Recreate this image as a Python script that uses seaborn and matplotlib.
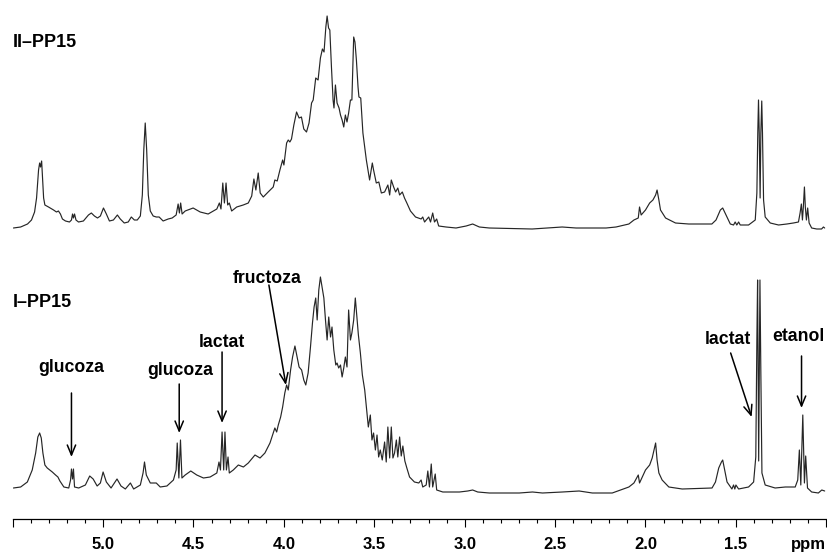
import matplotlib
matplotlib.use("Agg")
import matplotlib.pyplot as plt
import seaborn as sns
import pandas as pd
from matplotlib.ticker import MultipleLocator

# ---------------- data ----------------
# upper spectrum (II-PP15): chemical shift (ppm) and intensity (a.u.)
upper_ppm = [5.496, 5.456, 5.418, 5.396, 5.379, 5.368, 5.357, 5.351, 5.346, 5.340,
             5.335, 5.329, 5.322, 5.302, 5.274, 5.258, 5.247, 5.236, 5.225, 5.208,
             5.186, 5.175, 5.169, 5.164, 5.158, 5.150, 5.136, 5.109, 5.081, 5.065,
             5.048, 5.031, 5.015, 4.998, 4.982, 4.965, 4.943, 4.921, 4.905, 4.883,
             4.861, 4.844, 4.827, 4.811, 4.794, 4.783, 4.775, 4.767, 4.759, 4.750,
             4.739, 4.723, 4.706, 4.690, 4.668, 4.640, 4.618, 4.596, 4.585, 4.578,
             4.571, 4.563, 4.546, 4.502, 4.463, 4.419, 4.371, 4.357, 4.348, 4.338,
             4.329, 4.320, 4.311, 4.302, 4.289, 4.261, 4.225, 4.197, 4.178, 4.166,
             4.155, 4.142, 4.131, 4.114, 4.087, 4.059, 4.050, 4.037, 4.022, 4.007,
             4.000, 3.985, 3.976, 3.967, 3.958, 3.945, 3.930, 3.916, 3.903, 3.890,
             3.875, 3.861, 3.847, 3.838, 3.824, 3.811, 3.798, 3.787, 3.778, 3.768,
             3.761, 3.753, 3.746, 3.737, 3.728, 3.723, 3.715, 3.706, 3.695, 3.687,
             3.678, 3.669, 3.660, 3.651, 3.642, 3.632, 3.624, 3.614, 3.607, 3.599,
             3.590, 3.585, 3.575, 3.563, 3.544, 3.526, 3.511, 3.504, 3.489, 3.475,
             3.461, 3.443, 3.425, 3.415, 3.406, 3.393, 3.382, 3.370, 3.360, 3.345,
             3.333, 3.320, 3.300, 3.272, 3.241, 3.232, 3.222, 3.199, 3.189, 3.177,
             3.167, 3.155, 3.144, 3.103, 3.048, 2.992, 2.956, 2.919, 2.864, 2.627,
             2.461, 2.384, 2.218, 2.163, 2.092, 2.064, 2.040, 2.033, 2.024, 2.000,
             1.977, 1.959, 1.944, 1.936, 1.926, 1.917, 1.889, 1.834, 1.761, 1.633,
             1.610, 1.586, 1.573, 1.549, 1.531, 1.513, 1.504, 1.495, 1.485, 1.476,
             1.430, 1.393, 1.384, 1.379, 1.375, 1.371, 1.366, 1.362, 1.357, 1.353,
             1.347, 1.338, 1.310, 1.264, 1.218, 1.182, 1.154, 1.145, 1.138, 1.132,
             1.127, 1.121, 1.116, 1.110, 1.103, 1.095, 1.081, 1.053, 1.026, 1.016, 1.009]
upper_int = [1, 2, 5, 9, 17, 31, 59, 66, 62, 68,
             52, 31, 24, 22, 19, 17, 18, 15, 10, 8,
             7, 9, 15, 11, 15, 9, 7, 8, 14, 16,
             13, 11, 13, 21, 15, 8, 9, 14, 10, 6,
             7, 12, 9, 9, 13, 34, 79, 106, 79, 34,
             18, 13, 12, 12, 8, 10, 11, 14, 25, 16,
             26, 15, 18, 21, 17, 15, 20, 26, 20, 46,
             26, 46, 24, 26, 18, 22, 24, 26, 33, 50,
             39, 56, 36, 32, 37, 42, 49, 48, 59, 69,
             64, 86, 89, 87, 90, 104, 117, 111, 112, 100,
             97, 106, 126, 129, 151, 149, 171, 180, 177, 202,
             213, 201, 199, 162, 129, 121, 144, 126, 121, 114,
             109, 102, 114, 107, 116, 129, 129, 192, 187, 169,
             142, 132, 131, 96, 69, 49, 66, 59, 46, 47,
             36, 37, 44, 34, 49, 42, 37, 41, 34, 37,
             31, 26, 18, 12, 10, 12, 7, 12, 7, 16,
             7, 10, 3, 2, 1, 3, 5, 2, 1, 0,
             2, 1, 1, 2, 5, 9, 11, 22, 14, 19,
             26, 29, 34, 39, 29, 19, 11, 6, 5, 5,
             9, 19, 21, 12, 5, 4, 7, 4, 7, 4,
             4, 9, 36, 96, 129, 96, 31, 96, 128, 96,
             29, 12, 6, 4, 5, 6, 7, 16, 25, 9,
             22, 42, 22, 9, 21, 6, 1, 0, 0, 2, 1]

# lower spectrum (I-PP15)
lower_ppm = [5.496, 5.456, 5.419, 5.392, 5.373, 5.361, 5.351, 5.342, 5.333, 5.322,
             5.309, 5.281, 5.263, 5.250, 5.239, 5.217, 5.190, 5.180, 5.175, 5.169,
             5.164, 5.158, 5.135, 5.098, 5.074, 5.055, 5.033, 5.015, 5.000, 4.982,
             4.956, 4.923, 4.901, 4.877, 4.849, 4.831, 4.794, 4.779, 4.771, 4.761,
             4.739, 4.706, 4.684, 4.647, 4.611, 4.596, 4.590, 4.581, 4.572, 4.564,
             4.546, 4.515, 4.482, 4.445, 4.408, 4.371, 4.359, 4.351, 4.342, 4.333,
             4.326, 4.318, 4.309, 4.302, 4.280, 4.252, 4.224, 4.197, 4.160, 4.132,
             4.105, 4.077, 4.059, 4.050, 4.040, 4.031, 4.018, 4.007, 3.995, 3.985,
             3.976, 3.963, 3.952, 3.939, 3.927, 3.916, 3.902, 3.890, 3.879, 3.866,
             3.853, 3.842, 3.833, 3.824, 3.816, 3.807, 3.798, 3.789, 3.779, 3.770,
             3.761, 3.752, 3.742, 3.734, 3.724, 3.713, 3.706, 3.697, 3.687, 3.678,
             3.669, 3.660, 3.651, 3.642, 3.632, 3.624, 3.614, 3.605, 3.596, 3.588,
             3.577, 3.566, 3.553, 3.544, 3.533, 3.522, 3.513, 3.504, 3.494, 3.485,
             3.476, 3.467, 3.456, 3.443, 3.434, 3.425, 3.415, 3.406, 3.397, 3.388,
             3.378, 3.370, 3.360, 3.351, 3.342, 3.331, 3.320, 3.305, 3.278, 3.254,
             3.241, 3.232, 3.213, 3.204, 3.195, 3.185, 3.177, 3.163, 3.155, 3.121,
             3.029, 2.983, 2.956, 2.928, 2.864, 2.698, 2.625, 2.570, 2.460, 2.367,
             2.294, 2.184, 2.092, 2.064, 2.040, 2.033, 2.000, 1.977, 1.963, 1.944,
             1.936, 1.926, 1.908, 1.871, 1.797, 1.632, 1.613, 1.595, 1.580, 1.573,
             1.562, 1.549, 1.522, 1.513, 1.506, 1.500, 1.485, 1.430, 1.402, 1.390,
             1.384, 1.380, 1.374, 1.367, 1.362, 1.356, 1.338, 1.283, 1.227, 1.172,
             1.158, 1.149, 1.141, 1.130, 1.121, 1.114, 1.104, 1.081, 1.044, 1.025, 1.009]
lower_int = [5, 6, 11, 23, 40, 56, 60, 55, 40, 28,
             25, 21, 18, 16, 12, 6, 5, 13, 24, 14,
             24, 6, 5, 8, 17, 14, 7, 10, 21, 11,
             5, 14, 7, 4, 10, 4, 8, 20, 31, 18,
             10, 10, 6, 7, 13, 23, 50, 15, 53, 15,
             18, 22, 18, 15, 16, 20, 31, 23, 61, 23,
             61, 23, 36, 20, 23, 28, 26, 30, 38, 35,
             40, 50, 60, 65, 61, 68, 76, 86, 100, 108,
             103, 123, 136, 147, 136, 126, 123, 113, 108, 120,
             146, 170, 186, 195, 173, 203, 216, 206, 195, 173,
             153, 176, 156, 166, 143, 128, 130, 125, 128, 116,
             125, 136, 126, 183, 153, 160, 173, 195, 176, 158,
             140, 118, 103, 86, 66, 78, 53, 60, 43, 58,
             36, 43, 33, 51, 31, 66, 35, 66, 35, 40,
             53, 36, 56, 37, 47, 32, 25, 16, 11, 10,
             13, 6, 8, 22, 6, 29, 6, 19, 3, 1,
             1, 2, 3, 1, 0, 0, 1, 0, 1, 2,
             0, 0, 6, 10, 18, 10, 23, 28, 35, 50,
             33, 20, 13, 6, 4, 5, 11, 25, 31, 33,
             23, 11, 4, 8, 4, 8, 4, 6, 11, 36,
             153, 213, 32, 213, 120, 20, 8, 5, 6, 6,
             13, 43, 8, 78, 10, 37, 5, 1, 0, 3, 2]

sample_labels = ["II\u2013PP15", "I\u2013PP15"]
sample_offsets = [264, 0]
sample_label_y = [446, 186]

ann_labels = ["glucoza", "glucoza", "lactat", "fructoza", "lactat", "etanol"]
ann_text_ppm = [5.175, 4.574, 4.342, 4.094, 1.543, 1.154]
ann_text_y = [121, 118, 146, 210, 149, 152]
ann_tail_ppm = [5.175, 4.579, 4.342, 4.083, 1.529, 1.137]
ann_tail_y = [100, 109, 141, 208, 140, 137]
ann_head_ppm = [5.175, 4.579, 4.342, 3.989, 1.413, 1.137]
ann_head_y = [36, 60, 70, 108, 76, 85]

major_ticks = [5.5, 5.0, 4.5, 4.0, 3.5, 3.0, 2.5, 2.0, 1.5, 1.0]
major_labels = ["", "5.0", "4.5", "4.0", "3.5", "3.0", "2.5", "2.0", "1.5", ""]
x_unit = "ppm"

# ---------------- plotting ----------------
sns.set_theme(style="white")
plt.rcParams["font.family"] = ["Liberation Sans", "DejaVu Sans"]

fig = plt.figure(figsize=(8.28, 5.52), dpi=100)
ax = fig.add_axes([12.7 / 828, 33 / 552, 813.6 / 828, 519 / 552])

frames = []
for name, ppm, inten, off in zip(sample_labels, [upper_ppm, lower_ppm],
                                 [upper_int, lower_int], sample_offsets):
    frames.append(pd.DataFrame({"ppm": ppm,
                                "y": [v + off for v in inten],
                                "trace": name}))
df = pd.concat(frames, ignore_index=True)

for name in sample_labels:
    sns.lineplot(data=df[df["trace"] == name], x="ppm", y="y", sort=False,
                 estimator=None, color="#262626", linewidth=0.85, ax=ax,
                 legend=False)

ax.set_xlim(5.5, 1.0)
ax.set_ylim(-26, 493)
ax.set_xlabel("")
ax.set_ylabel("")
ax.set_yticks([])
for s in ["left", "top", "right"]:
    ax.spines[s].set_visible(False)
ax.spines["bottom"].set_color("black")
ax.spines["bottom"].set_linewidth(0.9)

ax.set_xticks(major_ticks)
ax.set_xticklabels(major_labels)
ax.xaxis.set_minor_locator(MultipleLocator(0.1))
ax.tick_params(axis="x", which="major", bottom=True, direction="out",
               length=5.8, width=0.8, pad=7, labelsize=12, colors="black")
ax.tick_params(axis="x", which="minor", bottom=True, direction="out",
               length=3.0, width=0.8, colors="black")
for lbl in ax.get_xticklabels():
    lbl.set_fontweight("bold")

ax.text(1.0, -56, x_unit, ha="right", va="baseline", fontsize=12,
        fontweight="bold", color="black")

for name, ly in zip(sample_labels, sample_label_y):
    ax.text(5.5, ly, name, ha="left", va="baseline", fontsize=13,
            fontweight="bold", color="black")

for lab, tx, ty, ax0, ay0, ax1, ay1 in zip(ann_labels, ann_text_ppm, ann_text_y,
                                          ann_tail_ppm, ann_tail_y,
                                          ann_head_ppm, ann_head_y):
    ax.text(tx, ty, lab, ha="center", va="baseline", fontsize=12.7,
            fontweight="bold", color="black")
    ax.annotate("", xy=(ax1, ay1), xytext=(ax0, ay0),
                arrowprops=dict(arrowstyle="->,head_length=0.6,head_width=0.25",
                                lw=1.1, color="black", shrinkA=0, shrinkB=0,
                                mutation_scale=12))

fig.savefig("out.png", dpi=100)
